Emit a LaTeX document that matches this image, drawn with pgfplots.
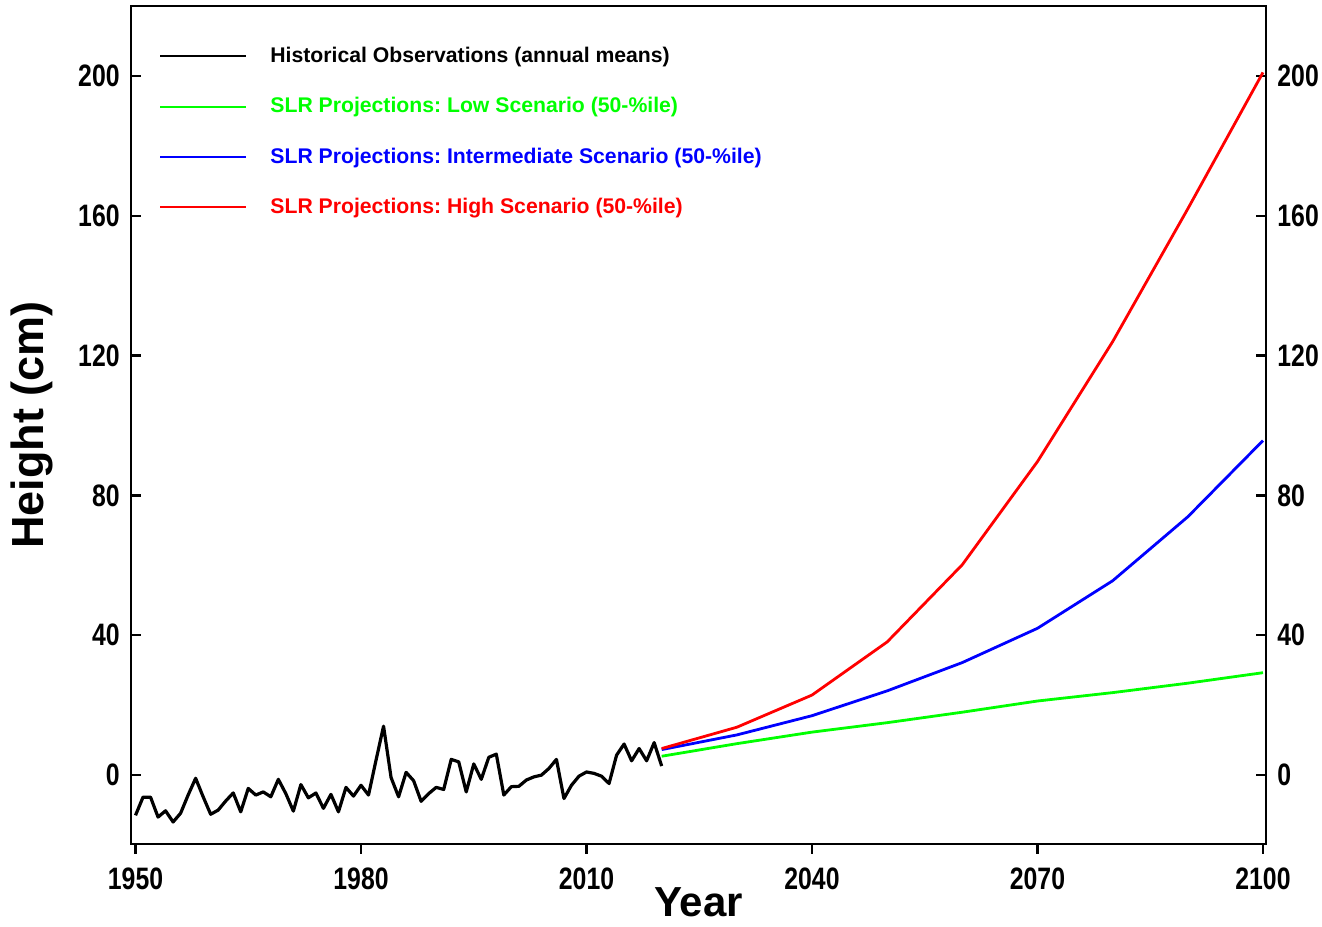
\documentclass[border=0pt]{standalone}
\usepackage{pgfplots}
\pgfplotsset{compat=1.18}
\usepackage{fontspec}
\setmainfont{Liberation Sans}
\newfontfamily\narrowfont{Liberation Sans}[FakeStretch=0.8]
\frenchspacing

\definecolor{obsblack}{RGB}{0,0,0}
\definecolor{lowgreen}{RGB}{0,255,0}
\definecolor{midblue}{RGB}{0,0,255}
\definecolor{highred}{RGB}{255,0,0}

% annual mean sea level (cm), 1950-2020
\pgfplotstableread{
year h
1950 -11.5
1951 -6.3
1952 -6.3
1953 -12.0
1954 -10.2
1955 -13.4
1956 -10.9
1957 -5.7
1958 -0.9
1959 -6.2
1960 -11.2
1961 -10.0
1962 -7.4
1963 -5.1
1964 -10.5
1965 -3.8
1966 -5.7
1967 -4.8
1968 -6.2
1969 -1.2
1970 -5.3
1971 -10.3
1972 -2.7
1973 -6.5
1974 -5.1
1975 -9.5
1976 -5.5
1977 -10.5
1978 -3.5
1979 -6.0
1980 -2.9
1981 -5.7
1982 4.3
1983 14.0
1984 -0.7
1985 -6.2
1986 0.8
1987 -1.6
1988 -7.5
1989 -5.3
1990 -3.5
1991 -4.1
1992 4.5
1993 3.8
1994 -4.8
1995 3.2
1996 -1.2
1997 5.1
1998 6.0
1999 -5.7
2000 -3.3
2001 -3.2
2002 -1.4
2003 -0.5
2004 0.0
2005 1.9
2006 4.5
2007 -6.7
2008 -2.9
2009 -0.3
2010 0.9
2011 0.5
2012 -0.3
2013 -2.4
2014 5.7
2015 8.9
2016 4.1
2017 7.6
2018 4.1
2019 9.3
2020 2.6
}\obsdata

% scenario medians (cm)
\pgfplotstableread{
year low mid high
2020 5.4 7.3 7.6
2030 9.0 11.5 13.7
2040 12.3 17.0 22.9
2050 15.0 24.1 38.1
2060 18.0 32.2 60.2
2070 21.2 42.0 89.7
2080 23.6 55.6 124.0
2090 26.3 73.9 162.0
2100 29.3 95.7 201.0
}\projdata

\begin{document}
\begin{tikzpicture}
\useasboundingbox (0,0) rectangle (661pt,463pt);
\begin{axis}[
  at={(65.5pt,41pt)}, anchor=south west,
  width=567.5pt, height=419pt, scale only axis,
  xmin=1949.4, xmax=2100.4, ymin=-19.7, ymax=220,
  xtick={1950,1980,2010,2040,2070,2100},
  ytick={0,40,80,120,160,200},
  xtick pos=left, ytick pos=both,
  xtick align=outside, ytick align=inside,
  major tick length=4.8pt,
  axis line style={line width=1.1pt},
  every tick/.style={black, line width=1.1pt},
  /pgf/number format/assume math mode=true,
  /pgf/number format/1000 sep={},
  tick label style={font=\narrowfont\bfseries\fontsize{15.5}{16}\selectfont, inner sep=0pt},
  yticklabel style={xshift=-5.5pt},
  xticklabel style={yshift=-7pt},
  xlabel={Year},
  xlabel style={font=\bfseries\fontsize{21}{24}\selectfont, at={(axis description cs:0.5,-0.052)}, anchor=north, inner sep=0pt},
  ylabel={Height (cm)},
  ylabel style={font=\bfseries\fontsize{22.5}{26}\selectfont, at={(axis description cs:-0.0687,0.5)}, anchor=south, inner sep=0pt},
  legend style={draw=none, fill=none, at={(axis description cs:0.0194,0.961)}, anchor=north west,
    font=\bfseries\fontsize{10.6}{12}\selectfont, row sep=12pt,
    /tikz/every odd column/.style={column sep=9.5pt}},
  legend cell align=left,
  legend image code/.code={\draw[#1, line width=1pt] (0pt,0pt) -- (43pt,0pt);},
]
\addplot[obsblack, line width=1.6pt, line join=round] table[x=year, y=h] {\obsdata};
\addlegendentry{\textcolor{obsblack}{Historical Observations (annual means)}}
\addplot[lowgreen, line width=1.4pt, line join=round] table[x=year, y=low] {\projdata};
\addlegendentry{\textcolor{lowgreen}{SLR Projections: Low Scenario (50-\%ile)}}
\addplot[midblue, line width=1.4pt, line join=round] table[x=year, y=mid] {\projdata};
\addlegendentry{\textcolor{midblue}{SLR Projections: Intermediate Scenario (50-\%ile)}}
\addplot[highred, line width=1.4pt, line join=round] table[x=year, y=high] {\projdata};
\addlegendentry{\textcolor{highred}{SLR Projections: High Scenario (50-\%ile)}}
\end{axis}
% tick labels repeated on the right-hand side
\begin{axis}[
  at={(65.5pt,41pt)}, anchor=south west,
  width=567.5pt, height=419pt, scale only axis,
  xmin=1949.4, xmax=2100.4, ymin=-19.7, ymax=220,
  axis y line*=right, hide x axis,
  ytick={0,40,80,120,160,200},
  major tick length=0pt,
  axis line style={line width=1.1pt},
  /pgf/number format/assume math mode=true,
  tick label style={font=\narrowfont\bfseries\fontsize{15.5}{16}\selectfont, inner sep=0pt},
  yticklabel style={xshift=5.5pt},
]
\end{axis}
\end{tikzpicture}
\end{document}
